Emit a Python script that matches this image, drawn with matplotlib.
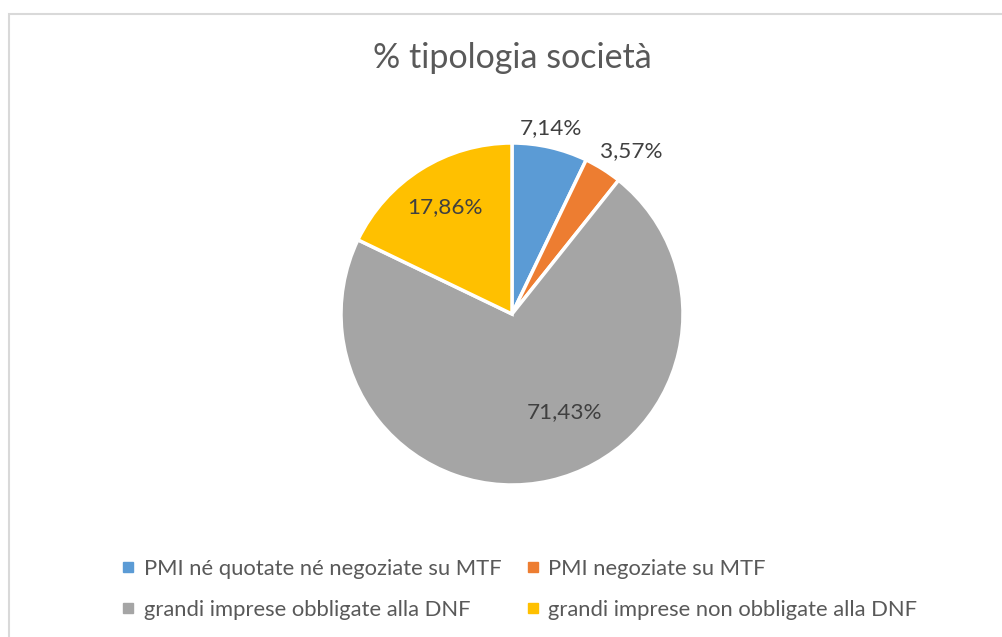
import matplotlib.pyplot as plt
import numpy as np
from matplotlib.lines import Line2D
from matplotlib.patches import Rectangle

plt.rcParams['font.family'] = ['Lato', 'DejaVu Sans']

categories = ["PMI né quotate né negoziate su MTF", "PMI negoziate su MTF",
              "grandi imprese obbligate alla DNF", "grandi imprese non obbligate alla DNF"]
values = [7.14, 3.57, 71.43, 17.86]
labels = ["7,14%", "3,57%", "71,43%", "17,86%"]
colors = ["#5B9BD5", "#ED7D31", "#A5A5A5", "#FFC000"]

# label placement (radius fraction, angle nudge in degrees)
label_r = [1.11, 1.18, 0.65, 0.74]
label_nudge = [1.0, -4.0, 15.5, 0.0]

W, H = 1002, 637
fig = plt.figure(figsize=(W / 100, H / 100), dpi=100)

# chart frame (Excel style light border)
fig.patches.append(Rectangle((9 / W, -0.1), 1.2, 1 - 14 / H + 0.1, transform=fig.transFigure,
                             fill=False, edgecolor="#D9D9D9", linewidth=1.5))

cx, cy, r = 512, 637 - 314, 171
ax = fig.add_axes([(cx - r) / W, (cy - r) / H, 2 * r / W, 2 * r / H])
wedges, _ = ax.pie(values, colors=colors, startangle=90, counterclock=False,
                   wedgeprops=dict(edgecolor="white", linewidth=2.5), radius=1)
ax.set_xlim(-1, 1)
ax.set_ylim(-1, 1)
ax.set_aspect("equal")

for w, lab, lr, nd in zip(wedges, labels, label_r, label_nudge):
    mid = np.deg2rad((w.theta1 + w.theta2) / 2 + nd)
    ax.text(lr * np.cos(mid), lr * np.sin(mid), lab, ha="center", va="center",
            fontsize=16.2, color="#404040", clip_on=False)

fig.text(512 / W, 1 - 58 / H, "% tipologia società", ha="center", va="center",
         fontsize=24.5, color="#595959")

# legend filled row by row like Excel
order = [0, 2, 1, 3]
handles = [Line2D([], [], marker="s", linestyle="none", markersize=6.5,
                  markerfacecolor=colors[i], markeredgecolor=colors[i]) for i in order]
fig.legend(handles, [categories[i] for i in order], ncol=2, loc="center",
           bbox_to_anchor=(520 / W, 1 - 589.5 / H),
           frameon=False, fontsize=15.8, labelcolor="#595959", handlelength=0.5,
           handletextpad=0.45, columnspacing=1.2, labelspacing=0.95)

fig.savefig("out.png", dpi=100, facecolor="white")
